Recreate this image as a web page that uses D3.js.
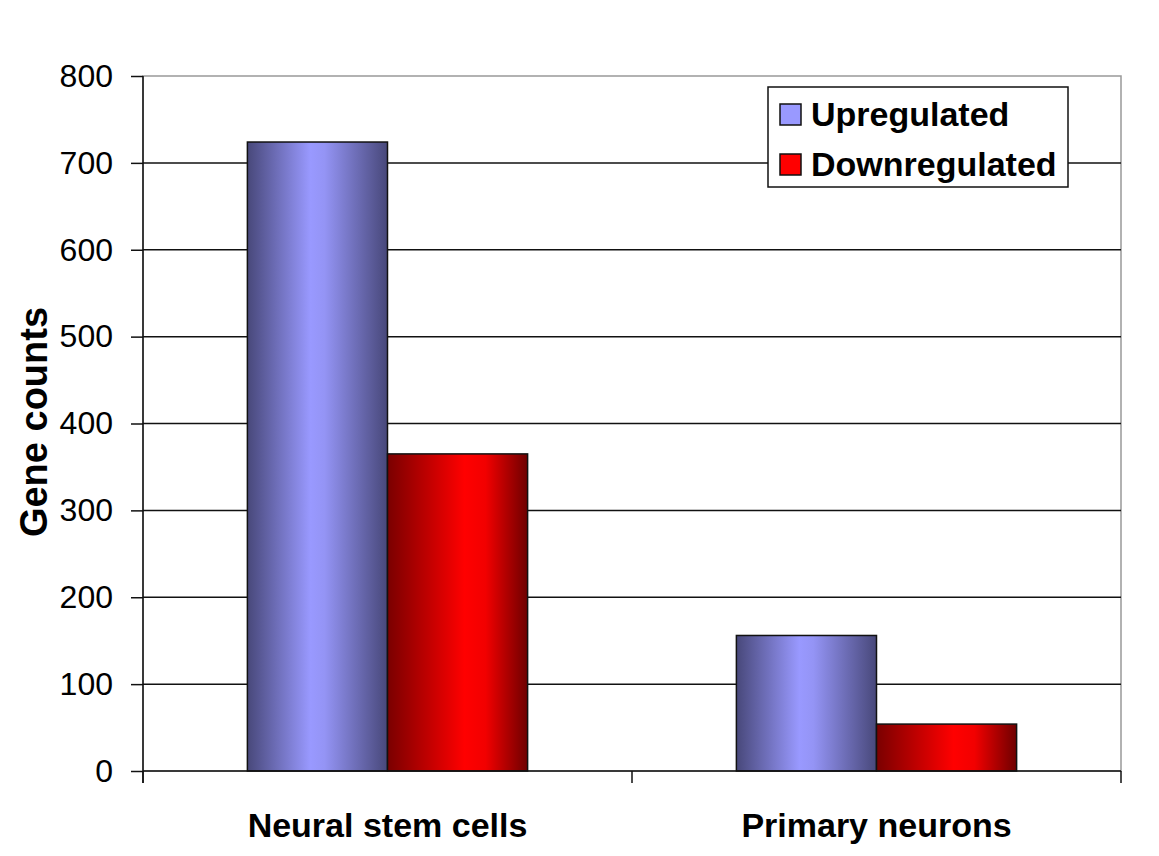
<!DOCTYPE html>
<html>
<head>
<meta charset="utf-8">
<script src="https://cdn.jsdelivr.net/npm/d3@7"></script>
<style>
  body { margin: 0; background: #fff; }
  text { font-family: "Liberation Sans", Arial, sans-serif; }
</style>
</head>
<body>
<svg id="chart" width="1159" height="856"></svg>
<script>
// data
var categories = ["Neural stem cells", "Primary neurons"]
var series = ["Upregulated", "Downregulated"]
var upregulated = [724, 156]
var downregulated = [365, 54]
var yTicks = [0, 100, 200, 300, 400, 500, 600, 700, 800]

var svg = d3.select("#chart")
var pLeft = 143, pRight = 1121, pTop = 76, pBottom = 771

var x = d3.scaleBand().domain(categories).range([pLeft, pRight]).paddingInner(0).paddingOuter(0)
var y = d3.scaleLinear().domain([0, 800]).range([pBottom, pTop])
var inner = d3.scaleBand().domain(series).range([0, x.bandwidth()]).paddingOuter(0.745).paddingInner(0)

var defs = svg.append("defs")
function grad(id, stops){
  var g = defs.append("linearGradient").attr("id", id).attr("x1", "0%").attr("x2", "100%").attr("y1", "0%").attr("y2", "0%")
  stops.forEach(function(s){ g.append("stop").attr("offset", s[0]).attr("stop-color", s[1]) })
}
grad("gUp", [["0%", "#48487a"], ["45%", "#9999ff"], ["55%", "#9494f5"], ["100%", "#48487a"]])
grad("gDown", [["0%", "#7a0000"], ["55%", "#ff0000"], ["70%", "#f20000"], ["100%", "#6e0000"]])
var fills = {"Upregulated": "url(#gUp)", "Downregulated": "url(#gDown)"}
var legendFill = {"Upregulated": "#9999ff", "Downregulated": "#ff0000"}

// plot border
svg.append("rect").attr("x", pLeft).attr("y", pTop).attr("width", pRight - pLeft).attr("height", pBottom - pTop)
  .attr("fill", "none").attr("stroke", "#999").attr("stroke-width", 1.5)

// gridlines
svg.append("g").selectAll("line").data(yTicks.filter(d => d > 0 && d < 800)).enter().append("line")
  .attr("x1", pLeft).attr("x2", pRight).attr("y1", d => y(d)).attr("y2", d => y(d))
  .attr("stroke", "#111").attr("stroke-width", 1.5)

// bars
var rows = []
categories.forEach(function(c, i){
  rows.push({cat: c, s: "Upregulated", v: upregulated[i]})
  rows.push({cat: c, s: "Downregulated", v: downregulated[i]})
})
svg.append("g").selectAll("rect").data(rows).enter().append("rect")
  .attr("x", d => x(d.cat) + inner(d.s))
  .attr("y", d => y(d.v))
  .attr("width", inner.bandwidth())
  .attr("height", d => y(0) - y(d.v))
  .attr("fill", d => fills[d.s])
  .attr("stroke", "#111").attr("stroke-width", 1.5)

// y axis
var yAxis = d3.axisLeft(y).tickValues(yTicks).tickSize(12).tickSizeOuter(0).tickPadding(18)
var ya = svg.append("g").attr("transform", "translate(" + pLeft + ",0)").call(yAxis)
ya.select(".domain").remove()
ya.append("line").attr("x1", 0).attr("x2", 0).attr("y1", pTop).attr("y2", pBottom + 12).attr("stroke", "#111").attr("stroke-width", 1.5)
ya.selectAll(".tick line").attr("stroke", "#111").attr("stroke-width", 1.5)
ya.selectAll(".tick text").attr("fill", "#000").style("font-size", "32px").style("font-family", "Liberation Sans, Arial, sans-serif")

// x axis
var xa = svg.append("g").attr("transform", "translate(0," + pBottom + ")")
xa.append("line").attr("x1", pLeft).attr("x2", pRight).attr("y1", 0).attr("y2", 0).attr("stroke", "#111").attr("stroke-width", 1.5)
var edges = categories.map(c => x(c)).concat([pRight])
xa.selectAll(".xt").data(edges).enter().append("line").attr("class", "xt")
  .attr("x1", d => d).attr("x2", d => d).attr("y1", 0).attr("y2", 12)
  .attr("stroke", "#111").attr("stroke-width", 1.5)
xa.selectAll(".xl").data(categories).enter().append("text").attr("class", "xl")
  .attr("x", d => x(d) + x.bandwidth() / 2)
  .attr("y", 66)
  .attr("text-anchor", "middle")
  .style("font-size", "34px").style("font-weight", "bold")
  .text(d => d)

// y title
svg.append("text").attr("transform", "translate(47," + 422 + ") rotate(-90)")
  .attr("text-anchor", "middle").style("font-size", "38px").style("font-weight", "bold")
  .text("Gene counts")

// legend
var lg = svg.append("g").attr("transform", "translate(768,87)")
lg.append("rect").attr("width", 300).attr("height", 100).attr("fill", "#fff").attr("stroke", "#111").attr("stroke-width", 1.5)
lg.selectAll("rect.sw").data(series).enter().append("rect").attr("class", "sw")
  .attr("x", 12).attr("y", (d, i) => 17 + i * 50).attr("width", 21).attr("height", 21)
  .attr("fill", d => legendFill[d]).attr("stroke", "#111").attr("stroke-width", 1.5)
lg.selectAll("text").data(series).enter().append("text")
  .attr("x", 43).attr("y", (d, i) => 39 + i * 50)
  .style("font-size", "34px").style("font-weight", "bold")
  .text(d => d)
</script>
</body>
</html>
